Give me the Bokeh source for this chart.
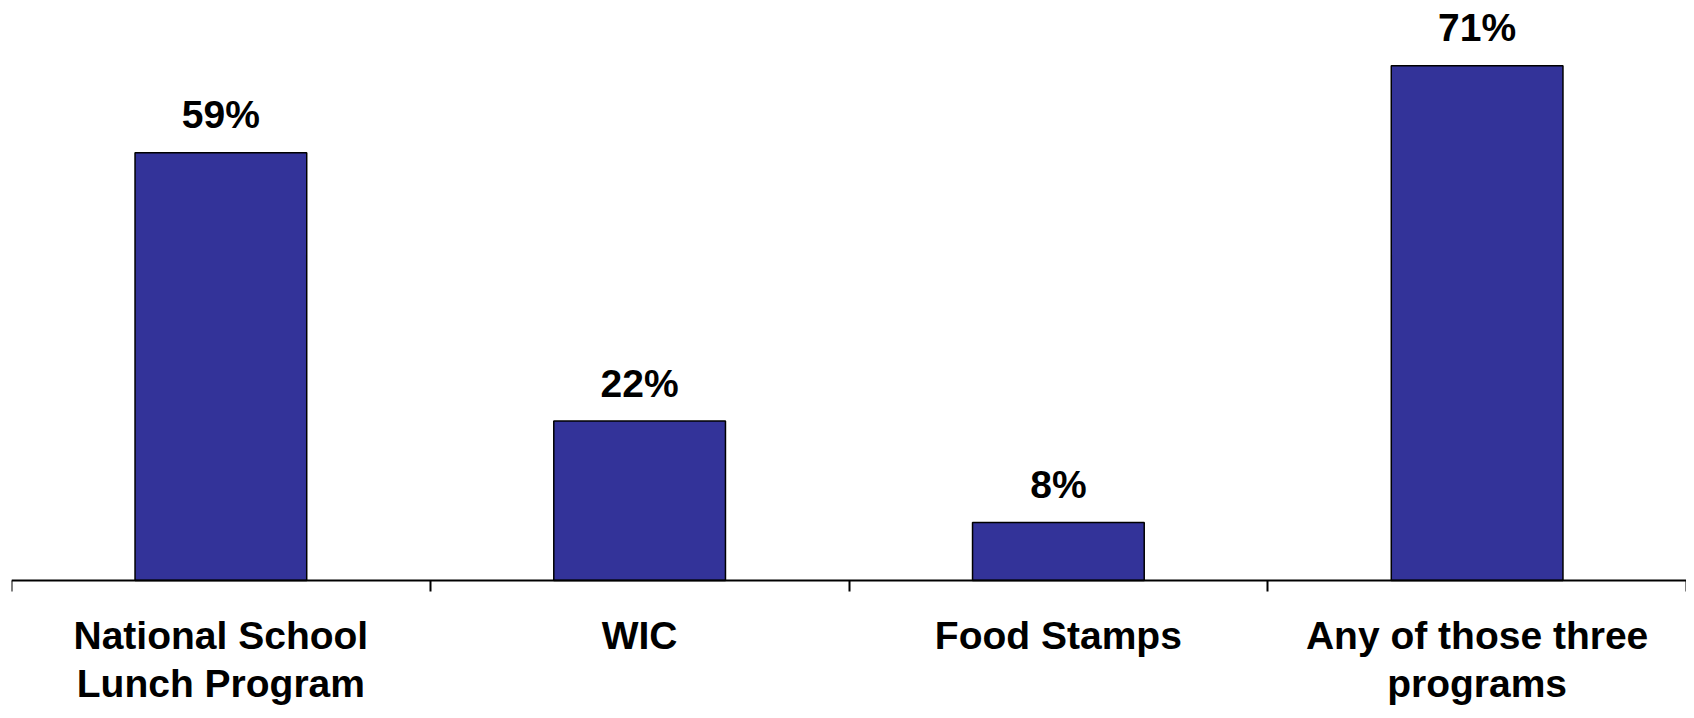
import numpy as np
from bokeh.plotting import figure
from bokeh.models import ColumnDataSource, Range1d, FixedTicker
from bokeh.core.properties import value
from bokeh.embed import file_html
from bokeh.resources import INLINE

categories = ["National School\nLunch Program", "WIC", "Food Stamps", "Any of those three\nprograms"]
percent = [59, 22, 8, 71]
value_labels = ["59%", "22%", "8%", "71%"]

xs = np.arange(len(categories))
src = ColumnDataSource(dict(x=xs, top=percent, lbl=value_labels))

FONT = "Liberation Sans"

p = figure(width=1686, height=710, output_backend="svg", toolbar_location=None,
           x_range=Range1d(-0.5, len(categories) - 0.5), y_range=Range1d(-17.93, 80.0),
           min_border_left=11, min_border_right=0, min_border_top=0, min_border_bottom=0)
p.outline_line_color = None
p.grid.grid_line_color = None
p.yaxis.visible = False
p.background_fill_color = "white"
p.border_fill_color = "white"

p.vbar(x="x", top="top", width=0.41, bottom=0, source=src,
       fill_color="#333399", line_color="black", line_width=1.5)

p.text(x="x", y="top", text="lbl", source=src, text_align="center",
       text_baseline="alphabetic", y_offset=-38,
       text_font=value(FONT), text_font_style="bold", text_font_size="39px",
       text_color="black")

ax = p.xaxis[0]
ax.fixed_location = 0
ax.ticker = FixedTicker(ticks=list(xs), minor_ticks=list(np.arange(len(categories) + 1) - 0.5))
ax.major_label_overrides = {int(i): c for i, c in zip(xs, categories)}
ax.axis_line_color = "black"
ax.axis_line_width = 2
ax.major_tick_line_color = None
ax.major_tick_out = 0
ax.major_tick_in = 0
ax.minor_tick_line_color = "black"
ax.minor_tick_line_width = 2
ax.minor_tick_out = 11
ax.minor_tick_in = 0
ax.major_label_standoff = 22
ax.major_label_text_font = FONT
ax.major_label_text_font_style = "bold"
ax.major_label_text_font_size = "39px"
ax.major_label_text_color = "black"
ax.major_label_text_line_height = 1.12

open("out.html", "w").write(file_html(p, INLINE))
